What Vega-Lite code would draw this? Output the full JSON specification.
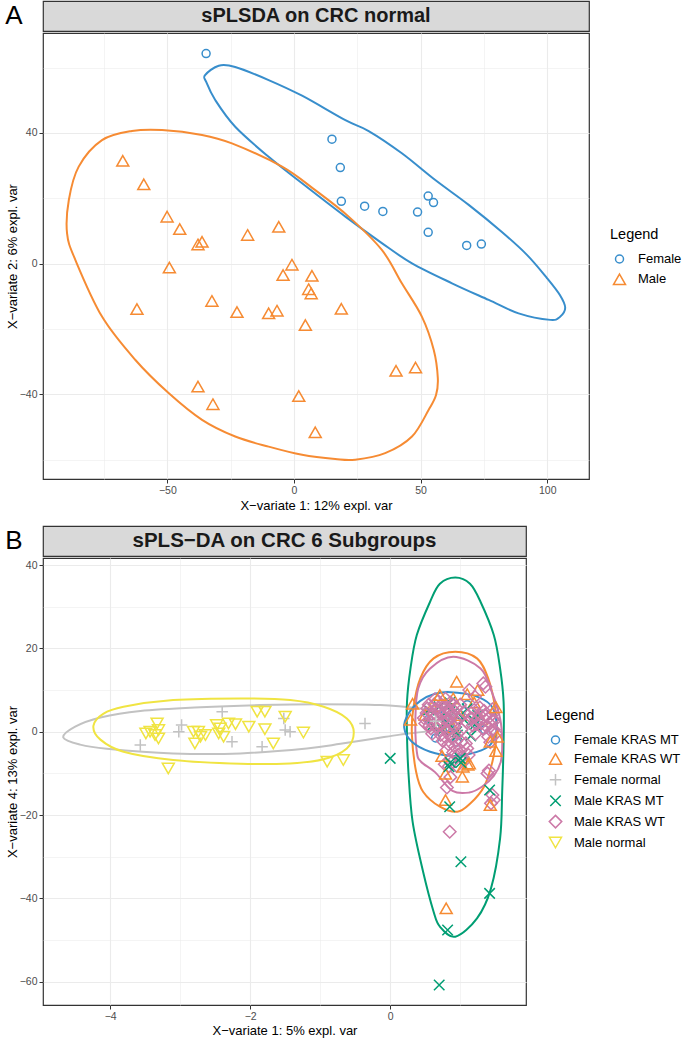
{
  "$schema": "https://vega.github.io/schema/vega-lite/v6.json",
  "padding": {"left": 4, "top": 0, "right": 0, "bottom": 0},
  "background": "white",
  "config": {
    "font": "Liberation Sans",
    "view": {"stroke": "#333333", "strokeWidth": 1.2},
    "axis": {"domain": false, "tickColor": "#333333", "tickSize": 4, "tickWidth": 1, "labelColor": "#4D4D4D", "labelFontSize": 10.5, "labelFont": "Liberation Sans", "titleFont": "Liberation Sans", "titleFontSize": 13, "titleFontWeight": "normal", "titleColor": "#000000", "gridColor": "#EBEBEB", "labelPadding": 2, "labelFlush": false, "labelOverlap": false},
    "legend": {"titleFont": "Liberation Sans", "labelFont": "Liberation Sans", "titleFontSize": 14.5, "titleFontWeight": "normal", "titleColor": "#000000", "labelFontSize": 13, "labelColor": "#000000", "symbolSize": 100, "symbolStrokeWidth": 1.5, "rowPadding": 4.3, "labelOffset": 12, "symbolOffset": 3, "titlePadding": 10}
  },
  "datasets": {
    "ptsA": [
      {"g": "Female", "x": -34.7, "y": 64.3}, {"g": "Female", "x": 15.0, "y": 38.1}, {"g": "Female", "x": 18.3, "y": 29.4}, {"g": "Female", "x": 18.7, "y": 19.1}, {"g": "Female", "x": 27.9, "y": 17.6}, {"g": "Female", "x": 35.1, "y": 16.0}, {"g": "Female", "x": 48.8, "y": 15.8}, {"g": "Female", "x": 53.0, "y": 20.7}, {"g": "Female", "x": 55.1, "y": 18.7}, {"g": "Female", "x": 53.0, "y": 9.6}, {"g": "Female", "x": 68.2, "y": 5.6}, {"g": "Female", "x": 74.0, "y": 6.0},
      {"g": "Male", "x": -67.6, "y": 31.5}, {"g": "Male", "x": -59.3, "y": 24.3}, {"g": "Male", "x": -50.1, "y": 14.4}, {"g": "Male", "x": -45.1, "y": 10.6}, {"g": "Male", "x": -37.9, "y": 5.9}, {"g": "Male", "x": -36.3, "y": 6.7}, {"g": "Male", "x": -18.3, "y": 8.8}, {"g": "Male", "x": -6.0, "y": 11.3}, {"g": "Male", "x": -49.2, "y": -1.2}, {"g": "Male", "x": -62.0, "y": -13.9}, {"g": "Male", "x": -32.4, "y": -11.4}, {"g": "Male", "x": -22.5, "y": -14.8}, {"g": "Male", "x": -10.0, "y": -15.2}, {"g": "Male", "x": -6.7, "y": -14.4}, {"g": "Male", "x": -0.8, "y": -0.3}, {"g": "Male", "x": -4.3, "y": -3.5}, {"g": "Male", "x": 7.1, "y": -3.7}, {"g": "Male", "x": 5.8, "y": -7.8}, {"g": "Male", "x": 6.8, "y": -9.1}, {"g": "Male", "x": 4.5, "y": -18.8}, {"g": "Male", "x": 18.7, "y": -13.8}, {"g": "Male", "x": -37.9, "y": -37.6}, {"g": "Male", "x": -32.0, "y": -43.0}, {"g": "Male", "x": 1.9, "y": -40.5}, {"g": "Male", "x": 8.4, "y": -51.6}, {"g": "Male", "x": 40.3, "y": -32.8}, {"g": "Male", "x": 48.0, "y": -31.8}
    ],
    "ellA": [
      {"g": "Female", "i": 1, "x": -35.1, "y": 57.7}, {"g": "Female", "i": 2, "x": -29.7, "y": 60.6}, {"g": "Female", "i": 3, "x": -23.2, "y": 60.2}, {"g": "Female", "i": 4, "x": -10.0, "y": 56.2}, {"g": "Female", "i": 5, "x": 3.2, "y": 51.4}, {"g": "Female", "i": 6, "x": 20.3, "y": 43.9}, {"g": "Female", "i": 7, "x": 29.5, "y": 40.6}, {"g": "Female", "i": 8, "x": 42.6, "y": 33.8}, {"g": "Female", "i": 9, "x": 55.8, "y": 25.6}, {"g": "Female", "i": 10, "x": 69.0, "y": 18.0}, {"g": "Female", "i": 11, "x": 82.1, "y": 9.7}, {"g": "Female", "i": 12, "x": 92.0, "y": 2.7}, {"g": "Female", "i": 13, "x": 99.9, "y": -4.4}, {"g": "Female", "i": 14, "x": 105.0, "y": -9.6}, {"g": "Female", "i": 15, "x": 107.1, "y": -13.5}, {"g": "Female", "i": 16, "x": 105.0, "y": -16.3}, {"g": "Female", "i": 17, "x": 101.2, "y": -17.2}, {"g": "Female", "i": 18, "x": 88.7, "y": -15.2}, {"g": "Female", "i": 19, "x": 76.9, "y": -11.1}, {"g": "Female", "i": 20, "x": 62.4, "y": -6.0}, {"g": "Female", "i": 21, "x": 46.6, "y": 0.1}, {"g": "Female", "i": 22, "x": 34.7, "y": 6.3}, {"g": "Female", "i": 23, "x": 20.3, "y": 14.4}, {"g": "Female", "i": 24, "x": 3.2, "y": 24.6}, {"g": "Female", "i": 25, "x": -10.0, "y": 32.7}, {"g": "Female", "i": 26, "x": -23.2, "y": 41.9}, {"g": "Female", "i": 27, "x": -31.1, "y": 50.1}, {"g": "Female", "i": 28, "x": -34.7, "y": 55.7},
      {"g": "Male", "i": 1, "x": -52.1, "y": 40.9}, {"g": "Male", "i": 2, "x": -36.3, "y": 39.4}, {"g": "Male", "i": 3, "x": -24.5, "y": 36.8}, {"g": "Male", "i": 4, "x": -4.7, "y": 29.7}, {"g": "Male", "i": 5, "x": 8.4, "y": 22.5}, {"g": "Male", "i": 6, "x": 21.6, "y": 14.4}, {"g": "Male", "i": 7, "x": 34.7, "y": 4.2}, {"g": "Male", "i": 8, "x": 42.6, "y": -6.0}, {"g": "Male", "i": 9, "x": 50.5, "y": -16.2}, {"g": "Male", "i": 10, "x": 55.2, "y": -26.4}, {"g": "Male", "i": 11, "x": 56.8, "y": -35.0}, {"g": "Male", "i": 12, "x": 56.1, "y": -40.2}, {"g": "Male", "i": 13, "x": 53.2, "y": -44.7}, {"g": "Male", "i": 14, "x": 46.6, "y": -52.9}, {"g": "Male", "i": 15, "x": 36.0, "y": -58.0}, {"g": "Male", "i": 16, "x": 24.2, "y": -60.0}, {"g": "Male", "i": 17, "x": 16.3, "y": -59.8}, {"g": "Male", "i": 18, "x": 3.2, "y": -58.5}, {"g": "Male", "i": 19, "x": -10.0, "y": -56.0}, {"g": "Male", "i": 20, "x": -23.2, "y": -52.9}, {"g": "Male", "i": 21, "x": -36.3, "y": -47.8}, {"g": "Male", "i": 22, "x": -49.5, "y": -39.6}, {"g": "Male", "i": 23, "x": -62.7, "y": -29.4}, {"g": "Male", "i": 24, "x": -75.8, "y": -16.2}, {"g": "Male", "i": 25, "x": -86.3, "y": 1.1}, {"g": "Male", "i": 26, "x": -89.6, "y": 9.3}, {"g": "Male", "i": 27, "x": -88.9, "y": 19.5}, {"g": "Male", "i": 28, "x": -85.0, "y": 29.7}, {"g": "Male", "i": 29, "x": -75.8, "y": 37.8}, {"g": "Male", "i": 30, "x": -64.0, "y": 40.6}
    ],
    "ptsB": [
      {"g": "Female KRAS MT", "x": 0.55, "y": 3.0}, {"g": "Female KRAS MT", "x": 0.70, "y": 5.5}, {"g": "Female KRAS MT", "x": 0.85, "y": 1.0}, {"g": "Female KRAS MT", "x": 1.00, "y": 4.0}, {"g": "Female KRAS MT", "x": 1.20, "y": 2.0}, {"g": "Female KRAS MT", "x": 1.35, "y": 0.5}, {"g": "Female KRAS MT", "x": 0.65, "y": -1.5}, {"g": "Female KRAS MT", "x": 0.95, "y": -2.5}, {"g": "Female KRAS MT", "x": 1.10, "y": 6.5}, {"g": "Female KRAS MT", "x": 0.80, "y": 3.5},
      {"g": "Female KRAS WT", "x": 0.60, "y": 6.0}, {"g": "Female KRAS WT", "x": 0.90, "y": 8.0}, {"g": "Female KRAS WT", "x": 1.20, "y": 7.0}, {"g": "Female KRAS WT", "x": 1.00, "y": 4.0}, {"g": "Female KRAS WT", "x": 0.70, "y": 2.0}, {"g": "Female KRAS WT", "x": 1.30, "y": 3.0}, {"g": "Female KRAS WT", "x": 0.90, "y": 1.0}, {"g": "Female KRAS WT", "x": 1.10, "y": 9.0}, {"g": "Female KRAS WT", "x": 0.50, "y": 4.0}, {"g": "Female KRAS WT", "x": 1.25, "y": 10.0}, {"g": "Female KRAS WT", "x": 0.95, "y": 12.0},
      {"g": "Male KRAS MT", "x": 0.70, "y": 6.0}, {"g": "Male KRAS MT", "x": 0.90, "y": 4.5}, {"g": "Male KRAS MT", "x": 1.10, "y": 5.5}, {"g": "Male KRAS MT", "x": 0.60, "y": 1.5}, {"g": "Male KRAS MT", "x": 1.25, "y": 4.0}, {"g": "Male KRAS MT", "x": 0.85, "y": 7.0}, {"g": "Male KRAS MT", "x": 1.05, "y": 3.0}, {"g": "Male KRAS MT", "x": 0.75, "y": 0.5}, {"g": "Male KRAS MT", "x": 1.15, "y": -1.0},
      {"g": "Male KRAS MT", "x": 0.55, "y": 5.2}, {"g": "Male KRAS MT", "x": 0.71, "y": 3.2}, {"g": "Male KRAS MT", "x": 0.81, "y": 2.4}, {"g": "Male KRAS MT", "x": 1.19, "y": 2.8}, {"g": "Male KRAS MT", "x": 0.95, "y": 0.0}, {"g": "Male KRAS MT", "x": 1.21, "y": 1.7}, {"g": "Male KRAS MT", "x": 0.96, "y": -0.8},
      {"g": "Male KRAS WT", "x": 0.50, "y": 2.0}, {"g": "Male KRAS WT", "x": 0.52, "y": 4.5}, {"g": "Male KRAS WT", "x": 0.55, "y": 6.5}, {"g": "Male KRAS WT", "x": 0.58, "y": 0.8}, {"g": "Male KRAS WT", "x": 0.62, "y": 3.2}, {"g": "Male KRAS WT", "x": 0.65, "y": 5.5}, {"g": "Male KRAS WT", "x": 0.68, "y": 7.4}, {"g": "Male KRAS WT", "x": 0.70, "y": 1.5}, {"g": "Male KRAS WT", "x": 0.73, "y": 4.0}, {"g": "Male KRAS WT", "x": 0.76, "y": 6.2}, {"g": "Male KRAS WT", "x": 0.80, "y": 2.6}, {"g": "Male KRAS WT", "x": 0.82, "y": 0.2}, {"g": "Male KRAS WT", "x": 0.84, "y": 5.0}, {"g": "Male KRAS WT", "x": 0.86, "y": 7.0}, {"g": "Male KRAS WT", "x": 0.88, "y": 3.5}, {"g": "Male KRAS WT", "x": 0.92, "y": 1.2}, {"g": "Male KRAS WT", "x": 0.94, "y": 5.8}, {"g": "Male KRAS WT", "x": 0.60, "y": -0.5}, {"g": "Male KRAS WT", "x": 0.72, "y": -0.8},
      {"g": "Male KRAS WT", "x": 0.48, "y": 3.3}, {"g": "Male KRAS WT", "x": 0.53, "y": 5.6}, {"g": "Male KRAS WT", "x": 0.57, "y": 2.5}, {"g": "Male KRAS WT", "x": 0.60, "y": 4.2}, {"g": "Male KRAS WT", "x": 0.63, "y": 6.6}, {"g": "Male KRAS WT", "x": 0.66, "y": 1.0}, {"g": "Male KRAS WT", "x": 0.67, "y": 3.8}, {"g": "Male KRAS WT", "x": 0.71, "y": 5.2}, {"g": "Male KRAS WT", "x": 0.74, "y": 2.4}, {"g": "Male KRAS WT", "x": 0.77, "y": 0.8}, {"g": "Male KRAS WT", "x": 0.78, "y": 4.6}, {"g": "Male KRAS WT", "x": 0.81, "y": 6.0}, {"g": "Male KRAS WT", "x": 0.83, "y": 3.0}, {"g": "Male KRAS WT", "x": 0.87, "y": 1.8}, {"g": "Male KRAS WT", "x": 0.89, "y": 4.4}, {"g": "Male KRAS WT", "x": 0.91, "y": 6.4}, {"g": "Male KRAS WT", "x": 0.93, "y": 2.8}, {"g": "Male KRAS WT", "x": 0.56, "y": 1.4}, {"g": "Male KRAS WT", "x": 0.64, "y": 7.8}, {"g": "Male KRAS WT", "x": 0.79, "y": 7.9},
      {"g": "Male KRAS WT", "x": 1.15, "y": 4.5}, {"g": "Male KRAS WT", "x": 1.18, "y": 1.5}, {"g": "Male KRAS WT", "x": 1.22, "y": -0.5}, {"g": "Male KRAS WT", "x": 1.25, "y": 3.0}, {"g": "Male KRAS WT", "x": 1.28, "y": 5.8}, {"g": "Male KRAS WT", "x": 1.32, "y": 0.8}, {"g": "Male KRAS WT", "x": 1.36, "y": 3.8}, {"g": "Male KRAS WT", "x": 1.40, "y": -1.2}, {"g": "Male KRAS WT", "x": 1.42, "y": 2.0}, {"g": "Male KRAS WT", "x": 1.46, "y": 4.2}, {"g": "Male KRAS WT", "x": 1.48, "y": 0.5},
      {"g": "Male KRAS WT", "x": 1.17, "y": 3.2}, {"g": "Male KRAS WT", "x": 1.20, "y": 5.2}, {"g": "Male KRAS WT", "x": 1.23, "y": 1.8}, {"g": "Male KRAS WT", "x": 1.27, "y": 4.2}, {"g": "Male KRAS WT", "x": 1.30, "y": 2.0}, {"g": "Male KRAS WT", "x": 1.34, "y": 5.0}, {"g": "Male KRAS WT", "x": 1.38, "y": 1.2}, {"g": "Male KRAS WT", "x": 1.41, "y": 3.4}, {"g": "Male KRAS WT", "x": 1.44, "y": 0.2}, {"g": "Male KRAS WT", "x": 1.47, "y": 3.0},
      {"g": "Male KRAS WT", "x": 0.98, "y": 3.0}, {"g": "Male KRAS WT", "x": 1.02, "y": 0.5}, {"g": "Male KRAS WT", "x": 1.06, "y": 4.8}, {"g": "Male KRAS WT", "x": 1.10, "y": 2.2}, {"g": "Male KRAS WT", "x": 1.00, "y": 6.5},
      {"g": "Male KRAS WT", "x": 0.75, "y": -2.2}, {"g": "Male KRAS WT", "x": 0.80, "y": -4.5}, {"g": "Male KRAS WT", "x": 0.85, "y": -6.8}, {"g": "Male KRAS WT", "x": 0.88, "y": -1.5}, {"g": "Male KRAS WT", "x": 0.92, "y": -3.6}, {"g": "Male KRAS WT", "x": 0.97, "y": -5.5}, {"g": "Male KRAS WT", "x": 1.02, "y": -2.5}, {"g": "Male KRAS WT", "x": 1.06, "y": -7.0}, {"g": "Male KRAS WT", "x": 1.10, "y": -4.0}, {"g": "Male KRAS WT", "x": 0.78, "y": -7.8}, {"g": "Male KRAS WT", "x": 0.95, "y": -8.2},
      {"g": "Male KRAS WT", "x": 0.78, "y": -1.2}, {"g": "Male KRAS WT", "x": 0.83, "y": -3.0}, {"g": "Male KRAS WT", "x": 0.90, "y": -5.0}, {"g": "Male KRAS WT", "x": 0.94, "y": -2.2}, {"g": "Male KRAS WT", "x": 0.99, "y": -4.2}, {"g": "Male KRAS WT", "x": 1.03, "y": -6.0}, {"g": "Male KRAS WT", "x": 0.87, "y": -7.5}, {"g": "Male KRAS WT", "x": 1.08, "y": -2.8}, {"g": "Male KRAS WT", "x": 1.12, "y": -5.6}, {"g": "Male KRAS WT", "x": 0.96, "y": -0.5},
      {"g": "Male KRAS WT", "x": 1.13, "y": 10.0}, {"g": "Male KRAS WT", "x": 1.36, "y": 10.8}, {"g": "Male KRAS WT", "x": 1.21, "y": 8.4}, {"g": "Male KRAS WT", "x": 1.33, "y": 11.6}, {"g": "Male KRAS WT", "x": 1.46, "y": 5.4}, {"g": "Male KRAS WT", "x": 1.48, "y": 2.5}, {"g": "Male KRAS WT", "x": 1.43, "y": -2.5}, {"g": "Male KRAS WT", "x": 1.51, "y": -0.4}, {"g": "Male KRAS WT", "x": 0.84, "y": -8.3}, {"g": "Male KRAS WT", "x": 0.81, "y": -13.4}, {"g": "Male KRAS WT", "x": 0.85, "y": -24.0}, {"g": "Male KRAS WT", "x": 1.41, "y": -9.3}, {"g": "Male KRAS WT", "x": 1.46, "y": -15.2}, {"g": "Male KRAS WT", "x": 1.48, "y": -16.4}, {"g": "Male KRAS WT", "x": 1.44, "y": -17.2}, {"g": "Male KRAS WT", "x": 0.86, "y": -10.9}, {"g": "Male KRAS WT", "x": 1.39, "y": -10.0},
      {"g": "Female KRAS WT", "x": 0.32, "y": 6.7}, {"g": "Female KRAS WT", "x": 0.29, "y": 2.9}, {"g": "Female KRAS WT", "x": 1.53, "y": -1.2}, {"g": "Female KRAS WT", "x": 1.51, "y": -4.6}, {"g": "Female KRAS WT", "x": 1.51, "y": 5.9}, {"g": "Female KRAS WT", "x": 1.11, "y": -7.9}, {"g": "Female KRAS WT", "x": 0.74, "y": -5.8}, {"g": "Female KRAS WT", "x": 0.79, "y": -16.4}, {"g": "Female KRAS WT", "x": 1.03, "y": -10.8}, {"g": "Female KRAS WT", "x": 1.04, "y": -8.4}, {"g": "Female KRAS WT", "x": 1.13, "y": -7.6}, {"g": "Female KRAS WT", "x": 1.43, "y": -17.6}, {"g": "Female KRAS WT", "x": 0.79, "y": -10.1}, {"g": "Female KRAS WT", "x": 0.80, "y": -42.4}, {"g": "Female KRAS WT", "x": 0.71, "y": 8.8}, {"g": "Female KRAS WT", "x": 1.43, "y": -2.4},
      {"g": "Male KRAS MT", "x": 0.00, "y": -6.4}, {"g": "Male KRAS MT", "x": 1.01, "y": -31.2}, {"g": "Male KRAS MT", "x": 1.42, "y": -38.8}, {"g": "Male KRAS MT", "x": 0.82, "y": -47.6}, {"g": "Male KRAS MT", "x": 0.70, "y": -60.8}, {"g": "Male KRAS MT", "x": 0.85, "y": -18.0}, {"g": "Male KRAS MT", "x": 1.42, "y": -14.0}, {"g": "Male KRAS MT", "x": 0.84, "y": -8.4}, {"g": "Male KRAS MT", "x": 0.86, "y": -7.4}, {"g": "Male KRAS MT", "x": 1.01, "y": -7.4}, {"g": "Male KRAS MT", "x": 1.00, "y": -6.4},
      {"g": "Female normal", "x": -3.57, "y": -3.2}, {"g": "Female normal", "x": -2.98, "y": 1.6}, {"g": "Female normal", "x": -3.02, "y": 0.0}, {"g": "Female normal", "x": -2.40, "y": 4.8}, {"g": "Female normal", "x": -2.26, "y": -2.4}, {"g": "Female normal", "x": -1.83, "y": -3.6}, {"g": "Female normal", "x": -1.52, "y": 3.2}, {"g": "Female normal", "x": -1.50, "y": 0.4}, {"g": "Female normal", "x": -1.43, "y": 0.0}, {"g": "Female normal", "x": -0.36, "y": 2.0}, {"g": "Female normal", "x": 0.65, "y": 2.5},
      {"g": "Male normal", "x": -3.49, "y": -0.4}, {"g": "Male normal", "x": -3.43, "y": 0.0}, {"g": "Male normal", "x": -3.33, "y": 2.0}, {"g": "Male normal", "x": -3.31, "y": 0.4}, {"g": "Male normal", "x": -3.36, "y": -0.8}, {"g": "Male normal", "x": -3.31, "y": -1.6}, {"g": "Male normal", "x": -3.17, "y": -8.8}, {"g": "Male normal", "x": -2.81, "y": 0.0}, {"g": "Male normal", "x": -2.74, "y": 0.0}, {"g": "Male normal", "x": -2.71, "y": -1.2}, {"g": "Male normal", "x": -2.79, "y": -2.8}, {"g": "Male normal", "x": -2.64, "y": -0.8}, {"g": "Male normal", "x": -2.48, "y": 1.6}, {"g": "Male normal", "x": -2.43, "y": 0.8}, {"g": "Male normal", "x": -2.45, "y": -0.4}, {"g": "Male normal", "x": -2.38, "y": -1.2}, {"g": "Male normal", "x": -2.31, "y": 2.0}, {"g": "Male normal", "x": -2.21, "y": 1.8}, {"g": "Male normal", "x": -2.02, "y": 1.2}, {"g": "Male normal", "x": -1.90, "y": 4.8}, {"g": "Male normal", "x": -1.79, "y": 4.8}, {"g": "Male normal", "x": -1.79, "y": 0.6}, {"g": "Male normal", "x": -1.67, "y": -2.8}, {"g": "Male normal", "x": -1.50, "y": 3.6}, {"g": "Male normal", "x": -1.24, "y": -0.2}, {"g": "Male normal", "x": -0.90, "y": -7.2}, {"g": "Male normal", "x": -0.67, "y": -6.8}
    ],
    "ellB": [
      {"g": "Female normal", "i": 1, "x": -4.67, "y": -1.4}, {"g": "Female normal", "i": 2, "x": -4.5, "y": 1.2}, {"g": "Female normal", "i": 3, "x": -4.14, "y": 3.4}, {"g": "Female normal", "i": 4, "x": -3.57, "y": 5.0}, {"g": "Female normal", "i": 5, "x": -2.71, "y": 5.9}, {"g": "Female normal", "i": 6, "x": -1.86, "y": 6.4}, {"g": "Female normal", "i": 7, "x": -1.0, "y": 6.6}, {"g": "Female normal", "i": 8, "x": -0.14, "y": 6.4}, {"g": "Female normal", "i": 9, "x": 0.43, "y": 5.6}, {"g": "Female normal", "i": 10, "x": 0.79, "y": 4.6}, {"g": "Female normal", "i": 11, "x": 0.93, "y": 3.1}, {"g": "Female normal", "i": 12, "x": 0.86, "y": 1.4}, {"g": "Female normal", "i": 13, "x": 0.57, "y": 0.2}, {"g": "Female normal", "i": 14, "x": 0.14, "y": -0.7}, {"g": "Female normal", "i": 15, "x": -0.24, "y": -1.7}, {"g": "Female normal", "i": 16, "x": -0.71, "y": -2.9}, {"g": "Female normal", "i": 17, "x": -1.19, "y": -4.0}, {"g": "Female normal", "i": 18, "x": -2.14, "y": -5.2}, {"g": "Female normal", "i": 19, "x": -3.1, "y": -5.2}, {"g": "Female normal", "i": 20, "x": -4.05, "y": -4.1}, {"g": "Female normal", "i": 21, "x": -4.43, "y": -3.1},
      {"g": "Male normal", "i": 1, "x": -4.24, "y": 1.4}, {"g": "Male normal", "i": 2, "x": -4.1, "y": 4.3}, {"g": "Male normal", "i": 3, "x": -3.81, "y": 6.0}, {"g": "Male normal", "i": 4, "x": -3.1, "y": 7.6}, {"g": "Male normal", "i": 5, "x": -2.14, "y": 8.0}, {"g": "Male normal", "i": 6, "x": -1.43, "y": 7.6}, {"g": "Male normal", "i": 7, "x": -0.95, "y": 6.0}, {"g": "Male normal", "i": 8, "x": -0.62, "y": 3.2}, {"g": "Male normal", "i": 9, "x": -0.52, "y": -0.2}, {"g": "Male normal", "i": 10, "x": -0.62, "y": -4.0}, {"g": "Male normal", "i": 11, "x": -0.95, "y": -6.6}, {"g": "Male normal", "i": 12, "x": -1.43, "y": -7.6}, {"g": "Male normal", "i": 13, "x": -2.14, "y": -7.7}, {"g": "Male normal", "i": 14, "x": -3.1, "y": -6.8}, {"g": "Male normal", "i": 15, "x": -3.81, "y": -4.8}, {"g": "Male normal", "i": 16, "x": -4.14, "y": -1.9},
      {"g": "Male KRAS MT", "i": 1, "x": 0.93, "y": 37.0}, {"g": "Male KRAS MT", "i": 2, "x": 1.14, "y": 35.5}, {"g": "Male KRAS MT", "i": 3, "x": 1.29, "y": 31.2}, {"g": "Male KRAS MT", "i": 4, "x": 1.48, "y": 23.2}, {"g": "Male KRAS MT", "i": 5, "x": 1.57, "y": 15.2}, {"g": "Male KRAS MT", "i": 6, "x": 1.62, "y": 7.2}, {"g": "Male KRAS MT", "i": 7, "x": 1.62, "y": -2.4}, {"g": "Male KRAS MT", "i": 8, "x": 1.6, "y": -14.4}, {"g": "Male KRAS MT", "i": 9, "x": 1.57, "y": -25.6}, {"g": "Male KRAS MT", "i": 10, "x": 1.44, "y": -37.6}, {"g": "Male KRAS MT", "i": 11, "x": 1.24, "y": -44.8}, {"g": "Male KRAS MT", "i": 12, "x": 0.93, "y": -49.2}, {"g": "Male KRAS MT", "i": 13, "x": 0.71, "y": -46.8}, {"g": "Male KRAS MT", "i": 14, "x": 0.62, "y": -43.2}, {"g": "Male KRAS MT", "i": 15, "x": 0.47, "y": -33.6}, {"g": "Male KRAS MT", "i": 16, "x": 0.32, "y": -21.6}, {"g": "Male KRAS MT", "i": 17, "x": 0.26, "y": -9.6}, {"g": "Male KRAS MT", "i": 18, "x": 0.24, "y": -0.8}, {"g": "Male KRAS MT", "i": 19, "x": 0.24, "y": 7.2}, {"g": "Male KRAS MT", "i": 20, "x": 0.29, "y": 15.2}, {"g": "Male KRAS MT", "i": 21, "x": 0.38, "y": 23.2}, {"g": "Male KRAS MT", "i": 22, "x": 0.57, "y": 31.2}, {"g": "Male KRAS MT", "i": 23, "x": 0.71, "y": 35.5},
      {"g": "Female KRAS WT", "i": 1, "x": 0.93, "y": 19.2}, {"g": "Female KRAS WT", "i": 2, "x": 1.24, "y": 17.6}, {"g": "Female KRAS WT", "i": 3, "x": 1.40, "y": 12.8}, {"g": "Female KRAS WT", "i": 4, "x": 1.50, "y": 5.6}, {"g": "Female KRAS WT", "i": 5, "x": 1.52, "y": -0.8}, {"g": "Female KRAS WT", "i": 6, "x": 1.46, "y": -7.2}, {"g": "Female KRAS WT", "i": 7, "x": 1.34, "y": -13.2}, {"g": "Female KRAS WT", "i": 8, "x": 1.14, "y": -17.3}, {"g": "Female KRAS WT", "i": 9, "x": 0.96, "y": -19.2}, {"g": "Female KRAS WT", "i": 10, "x": 0.71, "y": -18.0}, {"g": "Female KRAS WT", "i": 11, "x": 0.47, "y": -14.4}, {"g": "Female KRAS WT", "i": 12, "x": 0.37, "y": -9.6}, {"g": "Female KRAS WT", "i": 13, "x": 0.31, "y": -0.8}, {"g": "Female KRAS WT", "i": 14, "x": 0.33, "y": 5.6}, {"g": "Female KRAS WT", "i": 15, "x": 0.43, "y": 12.8}, {"g": "Female KRAS WT", "i": 16, "x": 0.62, "y": 17.6},
      {"g": "Male KRAS WT", "i": 1, "x": 0.90, "y": 18.0}, {"g": "Male KRAS WT", "i": 2, "x": 1.29, "y": 15.2}, {"g": "Male KRAS WT", "i": 3, "x": 1.45, "y": 9.6}, {"g": "Male KRAS WT", "i": 4, "x": 1.57, "y": 3.2}, {"g": "Male KRAS WT", "i": 5, "x": 1.60, "y": -2.4}, {"g": "Male KRAS WT", "i": 6, "x": 1.58, "y": -7.2}, {"g": "Male KRAS WT", "i": 7, "x": 1.48, "y": -10.6}, {"g": "Male KRAS WT", "i": 8, "x": 1.31, "y": -13.2}, {"g": "Male KRAS WT", "i": 9, "x": 1.13, "y": -14.6}, {"g": "Male KRAS WT", "i": 10, "x": 0.89, "y": -14.2}, {"g": "Male KRAS WT", "i": 11, "x": 0.64, "y": -9.7}, {"g": "Male KRAS WT", "i": 12, "x": 0.44, "y": -7.2}, {"g": "Male KRAS WT", "i": 13, "x": 0.38, "y": -4.8}, {"g": "Male KRAS WT", "i": 14, "x": 0.36, "y": 3.2}, {"g": "Male KRAS WT", "i": 15, "x": 0.40, "y": 10.4}, {"g": "Male KRAS WT", "i": 16, "x": 0.57, "y": 15.2},
      {"g": "Female KRAS MT", "i": 1, "x": 0.86, "y": 9.5}, {"g": "Female KRAS MT", "i": 2, "x": 1.21, "y": 8.6}, {"g": "Female KRAS MT", "i": 3, "x": 1.43, "y": 6.5}, {"g": "Female KRAS MT", "i": 4, "x": 1.51, "y": 3.4}, {"g": "Female KRAS MT", "i": 5, "x": 1.51, "y": -0.5}, {"g": "Female KRAS MT", "i": 6, "x": 1.40, "y": -3.6}, {"g": "Female KRAS MT", "i": 7, "x": 1.14, "y": -5.3}, {"g": "Female KRAS MT", "i": 8, "x": 0.89, "y": -5.8}, {"g": "Female KRAS MT", "i": 9, "x": 0.57, "y": -4.8}, {"g": "Female KRAS MT", "i": 10, "x": 0.31, "y": -2.4}, {"g": "Female KRAS MT", "i": 11, "x": 0.20, "y": 1.0}, {"g": "Female KRAS MT", "i": 12, "x": 0.26, "y": 4.3}, {"g": "Female KRAS MT", "i": 13, "x": 0.43, "y": 7.4}, {"g": "Female KRAS MT", "i": 14, "x": 0.64, "y": 9.1}
    ]
  },
  "spacing": 11,
  "resolve": {"scale": {"x": "independent", "y": "independent", "color": "independent", "shape": "independent", "stroke": "independent"}, "axis": {"x": "independent", "y": "independent"}, "legend": {"color": "independent", "shape": "independent"}},
  "vconcat": [
    {
      "spacing": 0,
      "resolve": {"scale": {"x": "independent", "y": "independent", "color": "independent", "shape": "independent", "stroke": "independent"}, "axis": {"x": "independent", "y": "independent"}, "legend": {"color": "independent", "shape": "independent"}},
      "vconcat": [
        {
          "width": 546, "height": 30,
          "data": {"values": [{"label": "sPLSDA on CRC normal"}]},
          "mark": {"type": "text", "fontSize": 20, "fontWeight": "bold", "color": "#1A1A1A"},
          "encoding": {"text": {"field": "label", "type": "nominal"}},
          "view": {"fill": "#D9D9D9", "stroke": "#333333", "strokeWidth": 1.2},
          "title": {"text": "A", "orient": "left", "angle": 0, "align": "right", "baseline": "middle", "anchor": "middle", "offset": 3, "fontSize": 26, "fontWeight": "normal", "color": "#000000", "font": "Liberation Sans"}
        },
        {
          "width": 546, "height": 446,
          "encoding": {
            "x": {"field": "x", "type": "quantitative", "scale": {"domain": [-99.1, 116.5], "nice": false, "zero": false},
                  "axis": {"title": "X−variate 1: 12% expl. var", "values": [-75, -50, -25, 0, 25, 50, 75, 100], "labelExpr": "datum.value % 50 === 0 ? datum.label : ''", "tickOpacity": {"condition": {"test": "datum.value % 50 === 0", "value": 1}, "value": 0}, "gridWidth": {"condition": {"test": "datum.value % 50 === 0", "value": 1.1}, "value": 0.55}, "titlePadding": 4}},
            "y": {"field": "y", "type": "quantitative", "scale": {"domain": [-65.9, 70.6], "nice": false, "zero": false},
                  "axis": {"title": "X−variate 2: 6% expl. var", "values": [-60, -40, -20, 0, 20, 40, 60], "labelExpr": "datum.value % 40 === 0 ? datum.label : ''", "tickOpacity": {"condition": {"test": "datum.value % 40 === 0", "value": 1}, "value": 0}, "gridWidth": {"condition": {"test": "datum.value % 40 === 0", "value": 1.1}, "value": 0.55}, "titlePadding": 0}}
          },
          "layer": [
            {
              "data": {"name": "ellA"},
              "mark": {"type": "line", "interpolate": "cardinal-closed", "strokeWidth": 2, "clip": true},
              "encoding": {
                "stroke": {"field": "g", "type": "nominal", "scale": {"domain": ["Male", "Female"], "range": ["#F68B33", "#388ECC"]}, "legend": null},
                "detail": {"field": "g"},
                "order": {"field": "i", "type": "quantitative"}
              }
            },
            {
              "data": {"name": "ptsA"},
              "mark": {"type": "point", "filled": false, "size": 100, "strokeWidth": 1.5, "opacity": 1},
              "encoding": {
                "color": {"field": "g", "type": "nominal", "scale": {"domain": ["Female", "Male"], "range": ["#388ECC", "#F68B33"]}, "legend": {"title": "Legend", "orient": "none", "legendX": 567, "legendY": 195}},
                "shape": {"field": "g", "type": "nominal", "scale": {"domain": ["Female", "Male"], "range": ["M-0.8,0A0.8,0.8 0 1,0 0.8,0A0.8,0.8 0 1,0 -0.8,0Z", "M0,-1.05L1.2,1.05L-1.2,1.05Z"]}, "legend": {"title": "Legend", "orient": "none", "legendX": 567, "legendY": 195}}
              }
            }
          ]
        }
      ]
    },
    {
      "spacing": 0,
      "resolve": {"scale": {"x": "independent", "y": "independent", "color": "independent", "shape": "independent", "stroke": "independent"}, "axis": {"x": "independent", "y": "independent"}, "legend": {"color": "independent", "shape": "independent"}},
      "vconcat": [
        {
          "width": 483, "height": 30,
          "data": {"values": [{"label": "sPLS−DA on CRC 6 Subgroups"}]},
          "mark": {"type": "text", "fontSize": 20.5, "fontWeight": "bold", "color": "#1A1A1A"},
          "encoding": {"text": {"field": "label", "type": "nominal"}},
          "view": {"fill": "#D9D9D9", "stroke": "#333333", "strokeWidth": 1.2},
          "title": {"text": "B", "orient": "left", "angle": 0, "align": "right", "baseline": "middle", "anchor": "middle", "offset": 3, "fontSize": 26, "fontWeight": "normal", "color": "#000000", "font": "Liberation Sans"}
        },
        {
          "width": 483, "height": 447,
          "encoding": {
            "x": {"field": "x", "type": "quantitative", "scale": {"domain": [-4.96, 1.94], "nice": false, "zero": false},
                  "axis": {"title": "X−variate 1: 5% expl. var", "values": [-4, -3, -2, -1, 0, 1], "labelExpr": "datum.value % 2 === 0 ? datum.label : ''", "tickOpacity": {"condition": {"test": "datum.value % 2 === 0", "value": 1}, "value": 0}, "gridWidth": {"condition": {"test": "datum.value % 2 === 0", "value": 1.1}, "value": 0.55}, "titlePadding": 3}},
            "y": {"field": "y", "type": "quantitative", "scale": {"domain": [-65.6, 41.7], "nice": false, "zero": false},
                  "axis": {"title": "X−variate 4: 13% expl. var", "values": [-60, -50, -40, -30, -20, -10, 0, 10, 20, 30, 40], "labelExpr": "datum.value % 20 === 0 ? datum.label : ''", "tickOpacity": {"condition": {"test": "datum.value % 20 === 0", "value": 1}, "value": 0}, "gridWidth": {"condition": {"test": "datum.value % 20 === 0", "value": 1.1}, "value": 0.55}, "titlePadding": 0}}
          },
          "layer": [
            {
              "data": {"name": "ellB"},
              "mark": {"type": "line", "interpolate": "cardinal-closed", "strokeWidth": 2, "clip": true},
              "encoding": {
                "stroke": {"field": "g", "type": "nominal", "scale": {"domain": ["Male normal", "Male KRAS WT", "Male KRAS MT", "Female normal", "Female KRAS WT", "Female KRAS MT"], "range": ["#F0E442", "#CC79A7", "#009E73", "#C2C2C2", "#F68B33", "#388ECC"]}, "legend": null},
                "detail": {"field": "g"},
                "order": {"field": "i", "type": "quantitative"}
              }
            },
            {
              "data": {"name": "ptsB"},
              "mark": {"type": "point", "filled": false, "size": 100, "strokeWidth": 1.5, "opacity": 1},
              "encoding": {
                "color": {"field": "g", "type": "nominal", "scale": {"domain": ["Female KRAS MT", "Female KRAS WT", "Female normal", "Male KRAS MT", "Male KRAS WT", "Male normal"], "range": ["#388ECC", "#F68B33", "#C2C2C2", "#009E73", "#CC79A7", "#F0E442"]}, "legend": {"title": "Legend", "orient": "none", "legendX": 503, "legendY": 151, "rowPadding": 2.9}},
                "shape": {"field": "g", "type": "nominal", "scale": {"domain": ["Female KRAS MT", "Female KRAS WT", "Female normal", "Male KRAS MT", "Male KRAS WT", "Male normal"], "range": ["M-0.8,0A0.8,0.8 0 1,0 0.8,0A0.8,0.8 0 1,0 -0.8,0Z", "M0,-1.05L1.2,1.05L-1.2,1.05Z", "M-1.15,0L1.15,0M0,-1.15L0,1.15", "M-1.05,-1.05L1.05,1.05M-1.05,1.05L1.05,-1.05", "M0,-1.25L1.25,0L0,1.25L-1.25,0Z", "M0,1.05L1.2,-1.05L-1.2,-1.05Z"]}, "legend": {"title": "Legend", "orient": "none", "legendX": 503, "legendY": 151, "rowPadding": 2.9}}
              }
            }
          ]
        }
      ]
    }
  ]
}
